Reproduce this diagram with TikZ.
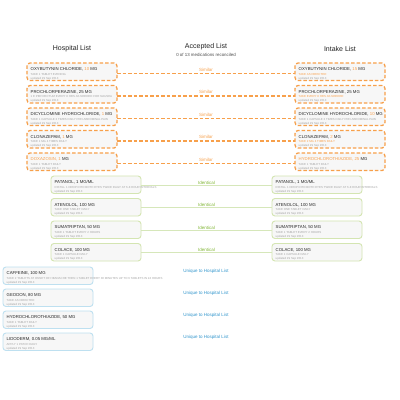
\documentclass[tikz,border=0pt]{standalone}
\usepackage{fontspec}
\setmainfont{Liberation Sans}
\usetikzlibrary{calc}
\definecolor{orng}{RGB}{247,160,75}
\definecolor{gbord}{RGB}{212,229,178}
\definecolor{gtext}{RGB}{130,183,55}
\definecolor{gline}{RGB}{214,231,186}
\definecolor{bbord}{RGB}{190,224,240}
\definecolor{btext}{RGB}{50,150,205}
\definecolor{bfill}{RGB}{247,247,247}
\definecolor{subgray}{RGB}{165,165,165}
\definecolor{ttl}{RGB}{35,35,35}
\tikzset{
  basebox/.style={rectangle, rounded corners=3pt, fill=bfill, minimum width=90pt, minimum height=17.5pt, inner sep=0pt, outer sep=0pt},
  obox/.style={basebox, draw=orng, line width=1.3pt, dash pattern=on 3.5pt off 2pt},
  gbox/.style={basebox, draw=gbord, line width=0.9pt},
  bboxs/.style={basebox, draw=bbord, line width=0.9pt},
  titletxt/.style={anchor=base west, inner sep=0pt, font=\fontsize{4.3}{5}\selectfont, text=ttl},
  subtxt/.style={anchor=base west, inner sep=0pt, font=\fontsize{2.9}{3.5}\selectfont, text=subgray},
  header/.style={inner sep=0pt, font=\fontsize{7}{8}\selectfont, text=ttl},
  lbl/.style={inner sep=1pt, font=\fontsize{4.5}{5}\selectfont},
  oline/.style={draw=orng, line width=1.5pt, dash pattern=on 3.5pt off 2pt},
  gln/.style={draw=gline, line width=1.1pt},
}
\newcommand{\drugbox}[6]{%
  \node[#2, anchor=north west] (#1) at (#3,#4) {};
  \node[titletxt] (#1n) at ([xshift=3.5pt,yshift=-7.8pt]#1.north west) {#5};
  \node[subtxt] (#1s) at ([xshift=3.5pt,yshift=-12pt]#1.north west) {#6};
  \node[subtxt] (#1u) at ([xshift=3.5pt,yshift=-16.2pt]#1.north west) {updated 29 Sep 2013};
}
\newcommand{\og}[1]{\textcolor{orng}{#1}}
\begin{document}
\begin{tikzpicture}[x=1pt,y=-1pt]
\useasboundingbox[fill=white] (0,0) rectangle (400,400);
% headers
\node[header] (hh) at (72,49) {Hospital List};
\node[header] (ha) at (206,47) {Accepted List};
\node[inner sep=0pt, font=\fontsize{4.4}{5}\selectfont, text=ttl!80] (hs) at (206,55) {0 of 13 medications reconciled};
\node[header] (hi) at (340,49) {Intake List};
% orange rows
\drugbox{L1}{obox}{27}{63}{OXYBUTYNIN CHLORIDE, \og{10} MG}{TAKE 1 TABLET EVENING}
\drugbox{R1}{obox}{295}{63}{OXYBUTYNIN CHLORIDE, \og{15} MG}{\textcolor{orng}{TAKE AS DIRECTED}}
\drugbox{L2}{obox}{27}{85.5}{PROCHLORPERAZINE, 25 MG}{1 E PER RECTUM EVERY 8 HRS AS NEEDED FOR NAUSEA}
\drugbox{R2}{obox}{295}{85.5}{PROCHLORPERAZINE, 25 MG}{\textcolor{orng}{TAKE EVERY 8 HRS AS NEEDED}}
\drugbox{L3}{obox}{27}{108}{DICYCLOMINE HYDROCHLORIDE, \og{1} MG}{TAKE 1 CAPSULE 3 TIMES DAILY PRN ABDOMINAL PAIN}
\drugbox{R3}{obox}{295}{108}{DICYCLOMINE HYDROCHLORIDE, \og{10} MG}{TAKE 1 CAPSULE 3 TIMES DAILY PRN ABDOMINAL PAIN}
\drugbox{L4}{obox}{27}{130.5}{CLONAZEPAM, \og{1} MG}{TAKE 1 MG 4 TIMES DAILY}
\drugbox{R4}{obox}{295}{130.5}{CLONAZEPAM, \og{2} MG}{\textcolor{orng}{TAKE 2 MG 4 TIMES DAILY}}
\drugbox{L5}{obox}{27}{153}{\og{DOXAZOSIN, 1} MG}{TAKE 1 TABLET DAILY}
\drugbox{R5}{obox}{295}{153}{\og{HYDROCHLOROTHIAZIDE, 25} MG}{TAKE 1 TABLET DAILY}
% green rows
\drugbox{L6}{gbox}{51}{176}{PATANOL, 1 MG/ML}{INSTILL 1 DROP INTO BOTH EYES TWICE DAILY AT 6-8 HOUR INTERVALS}
\drugbox{R6}{gbox}{272}{176}{PATANOL, 1 MG/ML}{INSTILL 1 DROP INTO BOTH EYES TWICE DAILY AT 6-8 HOUR INTERVALS}
\drugbox{L7}{gbox}{51}{198.5}{ATENOLOL, 100 MG}{TAKE ONE TABLET DAILY}
\drugbox{R7}{gbox}{272}{198.5}{ATENOLOL, 100 MG}{TAKE ONE TABLET DAILY}
\drugbox{L8}{gbox}{51}{221}{SUMATRIPTAN, 50 MG}{TAKE 1 TABLET EVERY 2 HOURS}
\drugbox{R8}{gbox}{272}{221}{SUMATRIPTAN, 50 MG}{TAKE 1 TABLET EVERY 2 HOURS}
\drugbox{L9}{gbox}{51}{243.5}{COLACE, 100 MG}{TAKE 1 CAPSULE DAILY}
\drugbox{R9}{gbox}{272}{243.5}{COLACE, 100 MG}{TAKE 1 CAPSULE DAILY}
% blue rows
\drugbox{U1}{bboxs}{3}{267}{CAFFEINE, 100 MG}{TAKE 2 TABLETS AT ONSET OF HEADACHE THEN 1 TABLET EVERY 30 MINUTES UP TO 6 TABLETS IN 24 HOURS}
\drugbox{U2}{bboxs}{3}{289}{GEODON, 80 MG}{TAKE AS DIRECTED}
\drugbox{U3}{bboxs}{3}{311}{HYDROCHLOROTHIAZIDE, 50 MG}{TAKE 1 TABLET DAILY}
\drugbox{U4}{bboxs}{3}{333}{LIDODERM, 0.05 MG/ML}{APPLY 1 PATCH DAILY}
% connectors
\foreach \i in {1,...,5}{
  \path[oline] ([yshift=-1.5pt]L\i.east) -- ([yshift=-1.5pt]R\i.west);
  \node[lbl, text=orng, anchor=south] (S\i) at ([yshift=-0.5pt]$(L\i.east)!0.5!(R\i.west)$) {Similar};
}
\foreach \i in {6,...,9}{
  \path[gln] ([yshift=-0.5pt]L\i.east) -- ([yshift=-0.5pt]R\i.west);
  \node[lbl, text=gtext, anchor=south] (I\i) at ([yshift=-0.5pt]$(L\i.east)!0.5!(R\i.west)$) {Identical};
}
\foreach \i in {1,...,4}{
  \node[lbl, text=btext] (UL\i) at ([yshift=-4.5pt]U\i.north -| S1) {Unique to Hospital List};
}
\end{tikzpicture}
\end{document}
